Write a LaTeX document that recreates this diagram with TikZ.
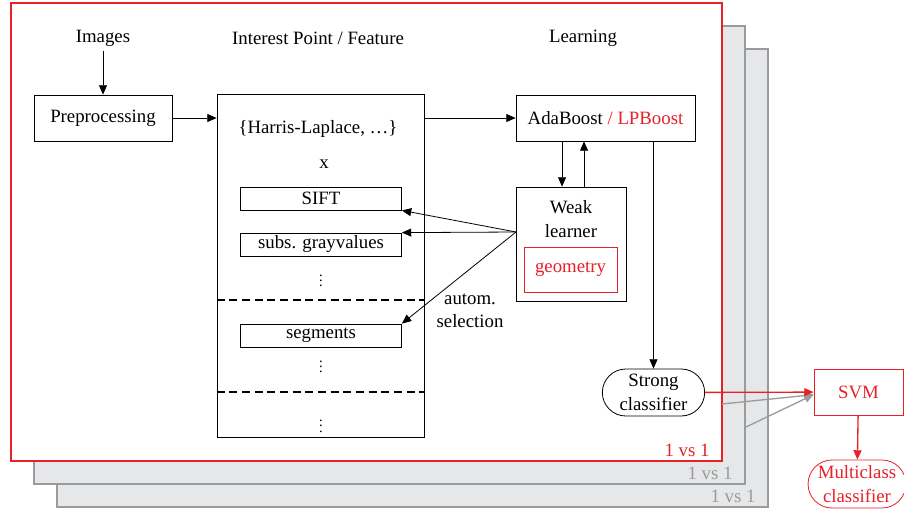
\documentclass[tikz,border=0pt]{standalone}
\usepackage{fontspec}
\setmainfont{Liberation Serif}
\usetikzlibrary{arrows.meta,shapes.misc}
\definecolor{lpred}{RGB}{232,32,40}
\definecolor{panelgray}{RGB}{230,231,233}
\definecolor{edgegray}{RGB}{155,155,155}

\begin{document}
\begin{tikzpicture}[x=0.75pt,y=-0.75pt,
  every node/.style={font=\fontsize{14.1}{17.5}\selectfont},
  >={Triangle[length=7pt,width=6pt]}, line width=0.6pt,
  box/.style={draw, align=center, inner sep=2pt},
  featbox/.style={draw, minimum width=120.75pt, minimum height=17.25pt, inner sep=0pt},
  dots/.style={inner sep=0pt, font=\fontsize{11}{11}\selectfont},
  pill/.style={draw, rounded rectangle, align=center, inner sep=1pt}]
  \useasboundingbox (0,0) rectangle (904,508);

  % stacked 1 vs 1 panels
  \foreach \d/\n in {46/3,23/2} {
    \draw[edgegray,fill=panelgray,line width=0.9pt] (11+\d,3+\d) rectangle (722+\d,461+\d);
    \node[edgegray] (vs\n) at (687+\d,450+\d) {1 vs 1};
  }
  \draw[lpred,fill=white,line width=1.2pt] (11,3) rectangle (722,461);
  \node[lpred] (vs1) at (687,450) {1 vs 1};

  % column headings
  \node (img) at (103,38) {Images};
  \node (ipf) at (318,38) {Interest Point / Feature};
  \node (learn) at (583,38) {Learning};

  \node[box, minimum width=103.5pt, minimum height=34.5pt] (pre) at (103,118) {Preprocessing};

  % interest points x descriptors
  \node[draw, minimum width=155.25pt, minimum height=257.25pt] (feat) at (320.5,266) {};
  \node (harris) at (318,129) {\{Harris-Laplace, …\}};
  \node (times) at (324,164) {x};
  \node[featbox] (sift) at (321,198.5) {SIFT};
  \node[featbox] (gray) at (321,244.5) {subs. grayvalues};
  \node[dots] (dots1) at (321,277) {$\vdots$};
  \node[featbox] (seg) at (321,335.5) {segments};
  \node[dots] (dots2) at (321,363) {$\vdots$};
  \node[dots] (dots3) at (321,422) {$\vdots$};
  \foreach \y in {300,392}
    \draw[dashed,line width=0.9pt,dash pattern=on 6pt off 3.5pt] (feat.west |- 0,\y) -- (feat.east |- 0,\y);

  % boosting
  \node[box, minimum width=134.25pt, minimum height=34.5pt] (ada) at (605.5,118) {AdaBoost \textcolor{lpred}{/ LPBoost}};
  \node[draw, minimum width=82.5pt, minimum height=85.5pt] (weak) at (571,244) {};
  \node[align=center] (weaktxt) at (571,219) {Weak\\learner};
  \node[draw=lpred, text=lpred, minimum width=69.75pt, minimum height=33.75pt] (geo) at (570.5,269.5) {geometry};
  \coordinate (sel) at (516,232);
  \node[align=center] (autom) at (470,311) {autom.\\selection};
  \node[pill, minimum width=78.75pt, minimum height=35.25pt] (strong) at (653.5,392.5) {Strong\\classifier};

  % multiclass
  \node[box, draw=lpred, text=lpred, minimum width=66.75pt, minimum height=34.5pt] (svm) at (858.5,392) {SVM};
  \node[pill, draw=lpred, text=lpred, minimum width=72pt, minimum height=36pt] (multi) at (857,484) {Multiclass\\classifier};

  \draw[->] (img) -- (pre);
  \draw[->] (pre) -- (feat.west |- pre);
  \draw[->] (feat.east |- ada) -- (ada);
  \draw[->] ([xshift=-32.6pt]ada.south) -- ([xshift=-32.6pt]ada.south |- weak.north);
  \draw[->] ([xshift=-16.1pt]ada.south |- weak.north) -- ([xshift=-16.1pt]ada.south);
  \draw[->] (ada.south -| strong.north) -- (strong.north);
  \foreach \t/\a in {sift/south east,gray/north east,seg/north east}
    \draw[->] (sel) -- (\t.\a);

  \coordinate (p2) at (722,404);
  \coordinate (p3) at (746,427);
  \foreach \p in {p2,p3}
    \draw[->,edgegray,line width=1pt] (\p) -- ([yshift=-2pt]svm.west);
  \draw[->,lpred,line width=1pt] (strong) -- (svm);
  \draw[->,lpred,line width=1pt] (svm) -- (multi);
\end{tikzpicture}
\end{document}
